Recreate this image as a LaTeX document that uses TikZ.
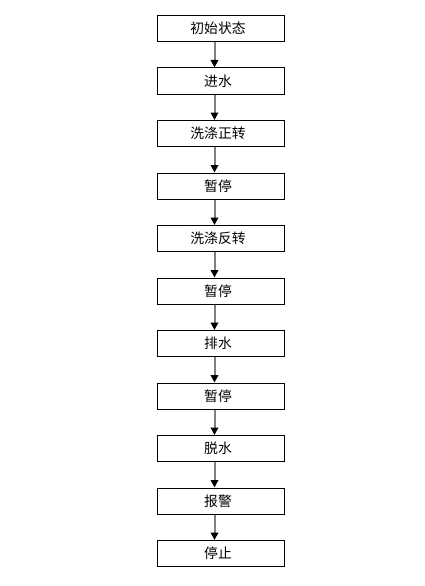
\documentclass[tikz,border=0pt]{standalone}
\usepackage{fontspec}
\newfontfamily\cjk{Noto Sans CJK SC}
\usetikzlibrary{arrows.meta}
\begin{document}
\begin{tikzpicture}[x=1pt,y=-1pt,
  stepbox/.style={draw=black,line width=1pt,minimum width=127pt,minimum height=26pt,inner sep=0pt,font=\cjk\fontsize{13.8}{15}\selectfont,anchor=north},
  flow/.style={draw=gray,line width=2pt,-{Triangle[length=7.5pt,width=7.5pt,fill=black,color=black]}}]
\useasboundingbox (0,0) rectangle (424,586);
\foreach \t [count=\i] in {初始状态,进水,洗涤正转,暂停,洗涤反转,暂停,排水,暂停,脱水,报警,停止}{
  \node[stepbox] (b\i) at (220.5,{15+52.5*(\i-1)}) {\kern-5pt\t};
}
\foreach \i [evaluate=\i as \j using int(\i+1)] in {1,...,10}{
  \draw[flow] ([xshift=-6pt]b\i.south) -- ([xshift=-6pt]b\j.north);
}
\end{tikzpicture}
\end{document}
